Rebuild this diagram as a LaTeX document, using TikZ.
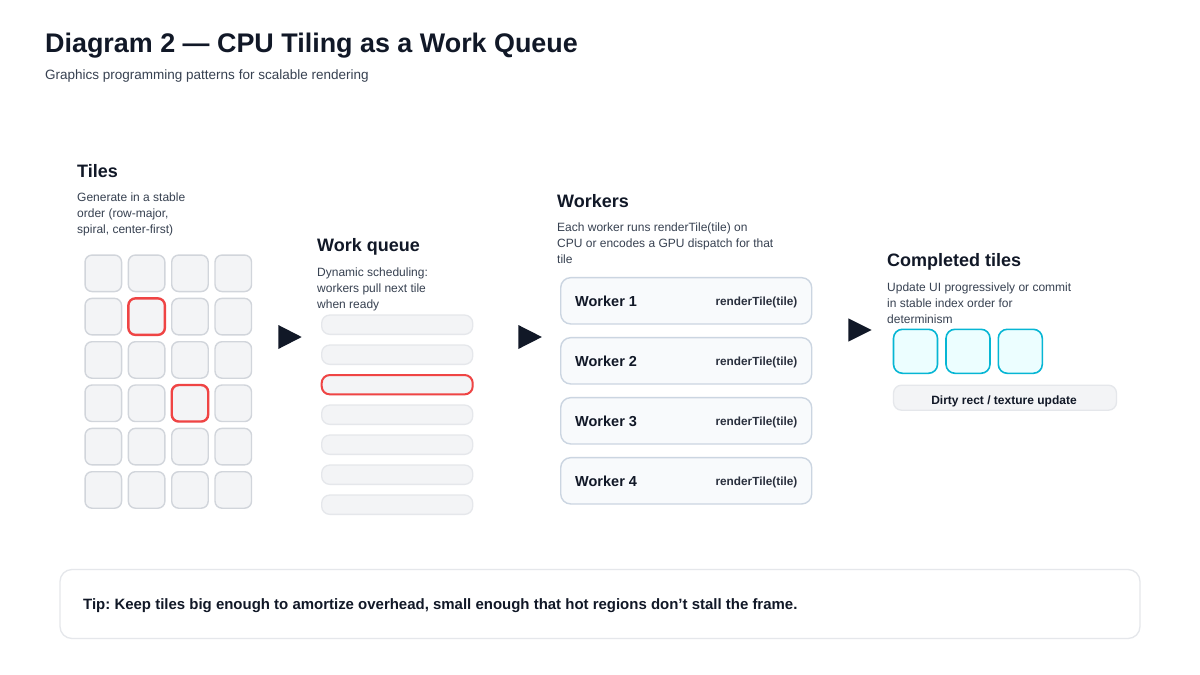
\documentclass[tikz,border=0pt]{standalone}
\usepackage{fontspec}
\setmainfont{Liberation Sans}
\frenchspacing
\definecolor{ink}{HTML}{111827}
\definecolor{body}{HTML}{374151}
\definecolor{tilefill}{HTML}{F3F4F6}
\definecolor{tileline}{HTML}{D1D5DB}
\definecolor{barline}{HTML}{E5E7EB}
\definecolor{hot}{HTML}{EF4444}
\definecolor{wfill}{HTML}{F8FAFC}
\definecolor{wline}{HTML}{CBD5E1}
\definecolor{cyanline}{HTML}{06B6D4}
\definecolor{cyanfill}{HTML}{ECFEFF}
\tikzset{
  tile/.style={draw=tileline, fill=tilefill, line width=1.4pt, rounded corners=7pt, minimum width=36.5pt, minimum height=36.5pt, inner sep=0pt},
  hottile/.style={tile, draw=hot, line width=2.4pt},
  qbar/.style={draw=barline, fill=tilefill, line width=1.3pt, rounded corners=8pt, minimum width=151pt, minimum height=19.3pt, inner sep=0pt},
  hotbar/.style={qbar, draw=hot, line width=2pt},
  worker/.style={draw=wline, fill=wfill, line width=1.4pt, rounded corners=10pt, minimum width=251pt, minimum height=46.3pt, inner sep=0pt},
  done/.style={draw=cyanline, fill=cyanfill, line width=1.6pt, rounded corners=9pt, minimum width=44pt, minimum height=44pt, inner sep=0pt},
  dirty/.style={draw=barline, fill=tilefill, line width=1.3pt, rounded corners=8pt, minimum width=223pt, minimum height=25pt, inner sep=0pt},
  dirtytxt/.style={anchor=base, inner sep=0pt, font=\fontsize{12}{14}\selectfont\bfseries, text=ink},
  tipbox/.style={draw=barline, fill=white, line width=1.3pt, rounded corners=12pt, minimum width=1080pt, minimum height=69pt, inner sep=0pt},
  head/.style={anchor=base west, inner sep=0pt, font=\fontsize{18}{20}\selectfont\bfseries, text=ink},
  bodytxt/.style={anchor=base west, inner sep=0pt, font=\fontsize{12}{14}\selectfont, text=body},
  wlabel/.style={anchor=base west, inner sep=0pt, font=\fontsize{14.5}{16}\selectfont\bfseries, text=ink},
  wcode/.style={anchor=base east, inner sep=0pt, font=\fontsize{11.8}{14}\selectfont\bfseries, text=ink!90},
  arrowfill/.style={fill=ink},
}
\begin{document}
\begin{tikzpicture}[x=1pt, y=-1pt]
\useasboundingbox (0,0) rectangle (1200,675);
\fill[white] (0,0) rectangle (1200,675);

% title
\node[anchor=base west, inner sep=0pt, font=\fontsize{26.9}{30}\selectfont\bfseries, text=ink] (title) at (45,52) {Diagram 2 — CPU Tiling as a Work Queue};
\node[anchor=base west, inner sep=0pt, font=\fontsize{13.5}{15}\selectfont, text=body] (subtitle) at (45,79.3) {Graphics programming patterns for scalable rendering};

% Tiles section
\node[head] (tilesH) at (77,177.3) {Tiles};
\node[bodytxt] (tilesB1) at (77,201.7) {Generate in a stable};
\node[bodytxt] (tilesB2) at (77,217.7) {order (row-major,};
\node[bodytxt] (tilesB3) at (77,233.7) {spiral, center-first)};
\foreach \r in {1,...,6}{
  \foreach \c in {1,...,4}{
    \node[tile] (t-\r-\c) at ({103.3+43.33*(\c-1)},{273.3+43.33*(\r-1)}) {};
  }
}
\node[hottile] (hot1) at (t-2-2) {};
\node[hottile] (hot2) at (t-4-3) {};

% arrow 1
\coordinate (a1) at (278.3,325);
\fill[arrowfill] (a1) -- ++(23.4,12) -- ++(-23.4,12) -- cycle;

% Work queue
\node[head] (queueH) at (317,251.7) {Work queue};
\node[bodytxt] (queueB1) at (317,276.1) {Dynamic scheduling:};
\node[bodytxt] (queueB2) at (317,292.1) {workers pull next tile};
\node[bodytxt] (queueB3) at (317,308.1) {when ready};
\foreach \i in {1,...,7}{
  \node[qbar] (q-\i) at (397.2,{324.7+30*(\i-1)}) {};
}
\node[hotbar] (qhot) at (q-3) {};

% arrow 2
\coordinate (a2) at (518.3,325);
\fill[arrowfill] (a2) -- ++(23.6,12) -- ++(-23.6,12) -- cycle;

% Workers
\node[head] (workH) at (557,207.3) {Workers};
\node[bodytxt] (workB1) at (557,231.7) {Each worker runs renderTile(tile) on};
\node[bodytxt] (workB2) at (557,247.7) {CPU or encodes a GPU dispatch for that};
\node[bodytxt] (workB3) at (557,263.7) {tile};
\foreach \i in {1,...,4}{
  \node[worker] (w-\i) at (686.2,{300.8+60*(\i-1)}) {};
  \node[wlabel] (wl-\i) at (575,{306.3+60*(\i-1)}) {Worker \i};
  \node[wcode] (wc-\i) at (797.5,{305.8+60*(\i-1)}) {renderTile(tile)};
}

% arrow 3
\coordinate (a3) at (848.3,318.3);
\fill[arrowfill] (a3) -- ++(23.4,11.7) -- ++(-23.4,11.7) -- cycle;

% Completed tiles
\node[head] (doneH) at (887,266.7) {Completed tiles};
\node[bodytxt] (doneB1) at (887,291.1) {Update UI progressively or commit};
\node[bodytxt] (doneB2) at (887,307.1) {in stable index order for};
\node[bodytxt] (doneB3) at (887,323.1) {determinism};
\node[done] (d-1) at (915.5,351.3) {};
\node[done] (d-2) at (968,351.3) {};
\node[done] (d-3) at (1020.3,351.3) {};
\node[dirty] (dirtybar) at (1005,397.7) {};
\node[dirtytxt] (dirtytext) at (1004,404) {Dirty rect / texture update};

% Tip
\node[tipbox] (tip) at (600,604) {};
\node[anchor=base west, inner sep=0pt, font=\fontsize{14.97}{17}\selectfont\bfseries, text=ink] (tiptext) at (83,609) {Tip: Keep tiles big enough to amortize overhead, small enough that hot regions don’t stall the frame.};
\end{tikzpicture}
\end{document}
